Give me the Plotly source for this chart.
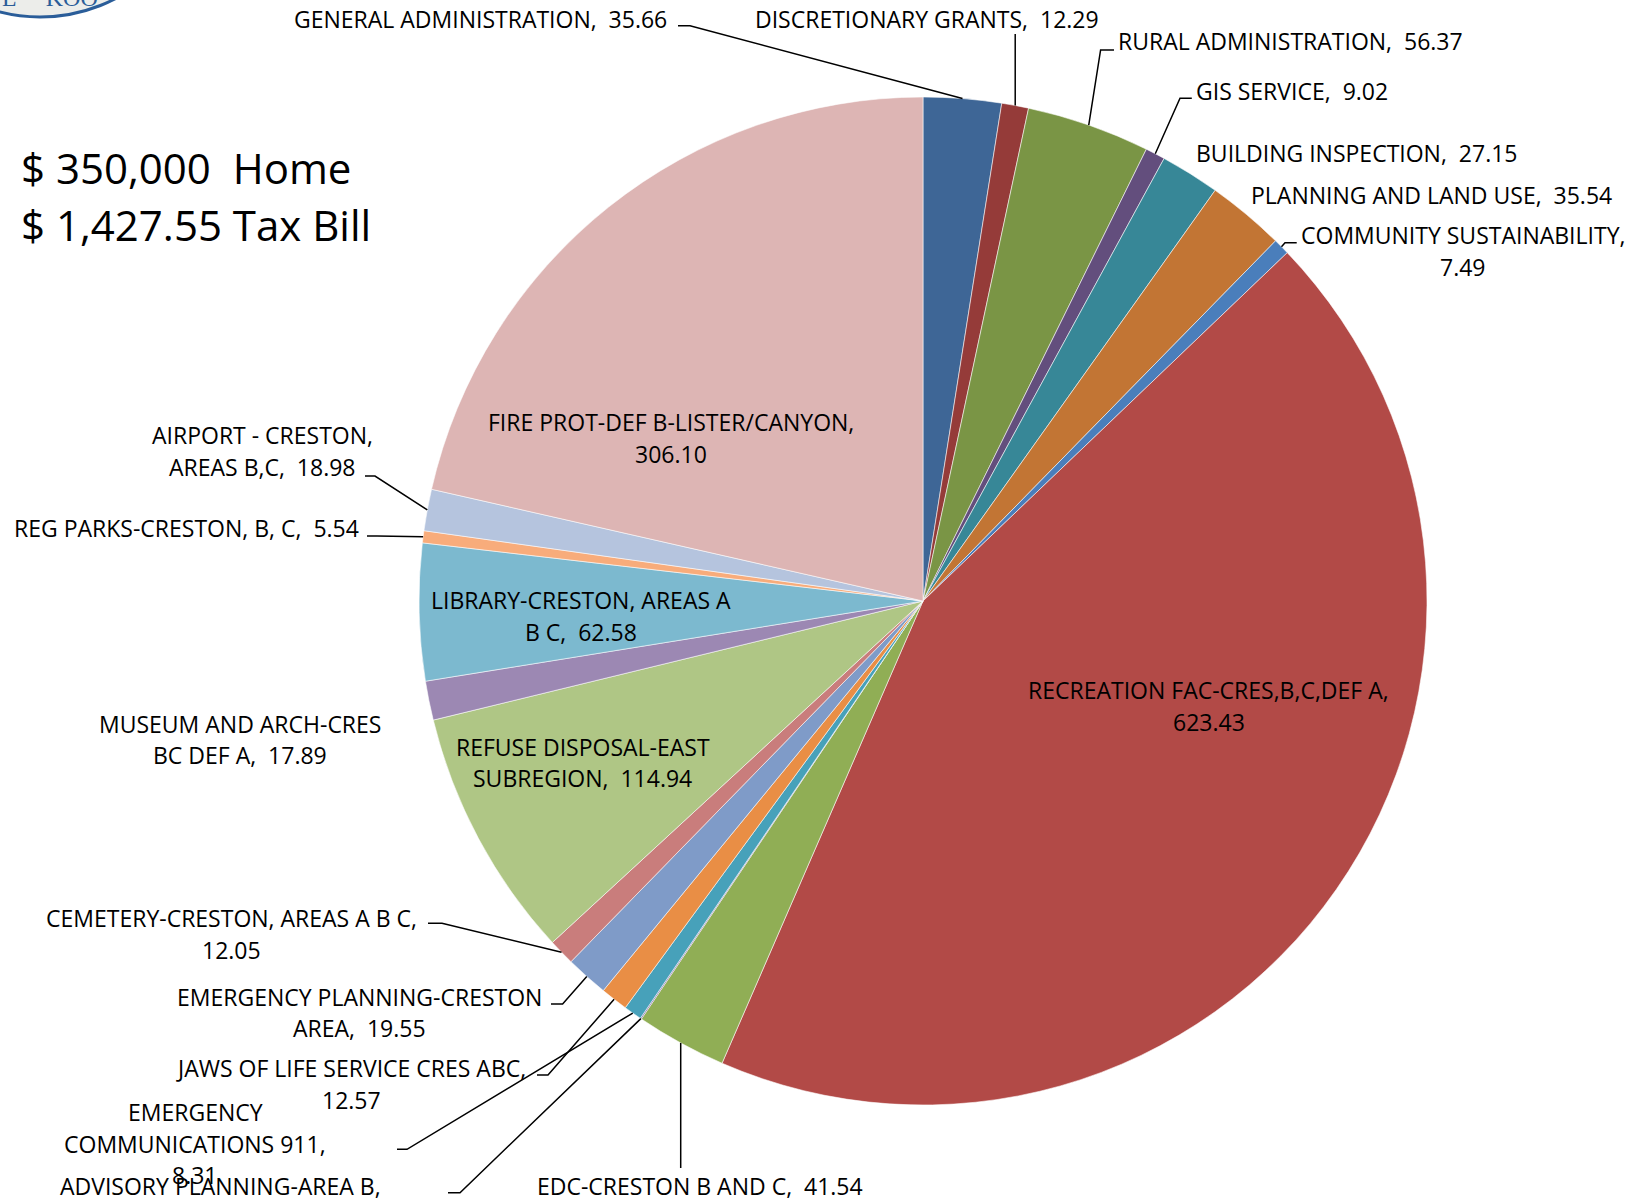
import math
import plotly.graph_objects as go

# ---- data -------------------------------------------------------------
services = [
    "GENERAL ADMINISTRATION", "DISCRETIONARY GRANTS", "RURAL ADMINISTRATION",
    "GIS SERVICE", "BUILDING INSPECTION", "PLANNING AND LAND USE",
    "COMMUNITY SUSTAINABILITY", "RECREATION FAC-CRES,B,C,DEF A",
    "EDC-CRESTON B AND C", "ADVISORY PLANNING-AREA B",
    "EMERGENCY COMMUNICATIONS 911", "JAWS OF LIFE SERVICE CRES ABC",
    "EMERGENCY PLANNING-CRESTON AREA", "CEMETERY-CRESTON, AREAS A B C",
    "REFUSE DISPOSAL-EAST SUBREGION", "MUSEUM AND ARCH-CRES BC DEF A",
    "LIBRARY-CRESTON, AREAS A B C", "REG PARKS-CRESTON, B, C",
    "AIRPORT - CRESTON, AREAS B,C", "FIRE PROT-DEF B-LISTER/CANYON",
]
amounts = [
    35.66, 12.29, 56.37, 9.02, 27.15, 35.54, 7.49, 623.43, 41.54, 0.55,
    8.31, 12.57, 19.55, 12.05, 114.94, 17.89, 62.58, 5.54, 18.98, 306.10,
]
home_value = 350000

# ---- styling ----------------------------------------------------------
colors = [
    "#3E6696", "#953B39", "#7A9545", "#634E7D", "#378797", "#C27534",
    "#4A7EBB", "#B24A47", "#90AE55", "#7F63A1", "#47A1BA", "#E98E45",
    "#7F9BC8", "#C97D7C", "#AFC685", "#9C88B3", "#7CB9CF", "#F8AC7B",
    "#B5C4DE", "#DDB5B4",
]

W, H = 1645, 1201
FONT = "Open Sans"
FS = 23
LINE_GAP = 31.5

# pie placement in pixels
PIE_LEFT, PIE_TOP, PIE_SIZE = 419, 97, 1008
cxp = PIE_LEFT + PIE_SIZE / 2
cyp = PIE_TOP + PIE_SIZE / 2
rad = PIE_SIZE / 2


def px(x):
    return x / W


def py(y):
    return 1 - y / H


# label layout per slice: text lines ({v} = amount), centre x, first-line y,
# leader: None, ("v", y_start) for a vertical drop, or ("h", x_label, x_turn, y)
label_layout = [
    (["GENERAL ADMINISTRATION,  {v}"], 480.5, 19, ("h", 678, 690, 25.7)),
    (["DISCRETIONARY GRANTS,  {v}"], 927.4, 19, ("v", 34)),
    (["RURAL ADMINISTRATION,  {v}"], 1290.4, 41, ("h", 1114, 1100.6, 50)),
    (["GIS SERVICE,  {v}"], 1292, 91.3, ("h", 1191.8, 1180, 98.3)),
    (["BUILDING INSPECTION,  {v}"], 1356, 153.2, None),
    (["PLANNING AND LAND USE,  {v}"], 1431, 195, None),
    (["COMMUNITY SUSTAINABILITY,", "{v}"], 1463, 235, ("h", 1296.7, 1285, 242.7)),
    (["RECREATION FAC-CRES,B,C,DEF A,", "{v}"], 1208.6, 690.3, None),
    (["EDC-CRESTON B AND C,  {v}"], 699.7, 1185.5, ("v", 1168)),
    (["ADVISORY PLANNING-AREA B,", "{v}"], 220.8, 1185.5, ("h", 448, 460, 1192.7)),
    (["EMERGENCY", "COMMUNICATIONS 911,", "{v}"], 195, 1112, ("h", 397, 407, 1149.3)),
    (["JAWS OF LIFE SERVICE CRES ABC,", "{v}"], 351, 1068, ("h", 537, 548, 1075)),
    (["EMERGENCY PLANNING-CRESTON", "AREA,  {v}"], 359, 996.7, ("h", 551, 562.6, 1004)),
    (["CEMETERY-CRESTON, AREAS A B C,", "{v}"], 231, 918.3, ("h", 428, 442, 923.3)),
    (["REFUSE DISPOSAL-EAST", "SUBREGION,  {v}"], 582.5, 746.5, None),
    (["MUSEUM AND ARCH-CRES", "BC DEF A,  {v}"], 239.7, 723.9, None),
    (["LIBRARY-CRESTON, AREAS A", "B C,  {v}"], 581, 600, None),
    (["REG PARKS-CRESTON, B, C,  {v}"], 186.2, 527.7, ("h", 367, 377, 536)),
    (["AIRPORT - CRESTON,", "AREAS B,C,  {v}"], 262.8, 435.4, ("h", 365, 375, 476)),
    (["FIRE PROT-DEF B-LISTER/CANYON,", "{v}"], 671, 422, None),
]

total = sum(amounts)

fig = go.Figure(
    go.Pie(
        labels=services,
        values=amounts,
        sort=False,
        direction="clockwise",
        rotation=0,
        textinfo="none",
        hoverinfo="label+value",
        marker=dict(colors=colors, line=dict(color="rgba(255,255,255,0.55)", width=1)),
        domain=dict(
            x=[px(PIE_LEFT), px(PIE_LEFT + PIE_SIZE)],
            y=[py(PIE_TOP + PIE_SIZE), py(PIE_TOP)],
        ),
        showlegend=False,
    )
)

annotations = []
shapes = []

cum = 0.0
for amt, (lines, lx, ly, leader) in zip(amounts, label_layout):
    mid = (cum + amt / 2) / total * 2 * math.pi
    cum += amt
    sx = cxp + rad * math.sin(mid)
    sy = cyp - rad * math.cos(mid)
    for i, ln in enumerate(lines):
        annotations.append(dict(
            x=px(lx), y=py(ly + i * LINE_GAP), xref="paper", yref="paper",
            text=ln.format(v=f"{amt:.2f}"), showarrow=False,
            xanchor="center", yanchor="middle",
            font=dict(family=FONT, size=FS, color="#000000"),
        ))
    if leader is None:
        continue
    if leader[0] == "v":
        pts = [(sx, leader[1]), (sx, sy)]
    else:
        _, xa, xb, yb = leader
        pts = [(xa, yb), (xb, yb), (sx, sy)]
    path = "M " + " L ".join(f"{px(x):.5f},{py(y):.5f}" for x, y in pts)
    shapes.append(dict(type="path", path=path, xref="paper", yref="paper",
                       line=dict(color="#000000", width=1.5), layer="above"))

# headline figures
annotations.append(dict(
    x=px(19), y=py(167.5), xref="paper", yref="paper",
    text=f"$ {home_value:,}  Home", showarrow=False,
    xanchor="left", yanchor="middle",
    font=dict(family=FONT, size=42, color="#000000"),
))
annotations.append(dict(
    x=px(19), y=py(224), xref="paper", yref="paper",
    text=f"$ {total:,.2f} Tax Bill", showarrow=False,
    xanchor="left", yanchor="middle",
    font=dict(family=FONT, size=42, color="#000000"),
))

# corner of the district emblem
shapes.insert(0, dict(
    type="circle", xref="paper", yref="paper",
    x0=px(40 - 164), x1=px(40 + 164), y0=py(-147 + 164), y1=py(-147 - 164),
    fillcolor="#ECEDEA", line=dict(color="#2A5D99", width=3), layer="below",
))
annotations.append(dict(
    x=px(0), y=py(13), xref="paper", yref="paper",
    text="L     KOO", showarrow=False, xanchor="left", yanchor="bottom",
    font=dict(family="Liberation Serif", size=24, color="#2A5D99"),
))

fig.update_layout(
    width=W, height=H,
    margin=dict(l=0, r=0, t=0, b=0),
    paper_bgcolor="#FFFFFF",
    plot_bgcolor="#FFFFFF",
    annotations=annotations,
    shapes=shapes,
)

fig.write_html("out.html")
